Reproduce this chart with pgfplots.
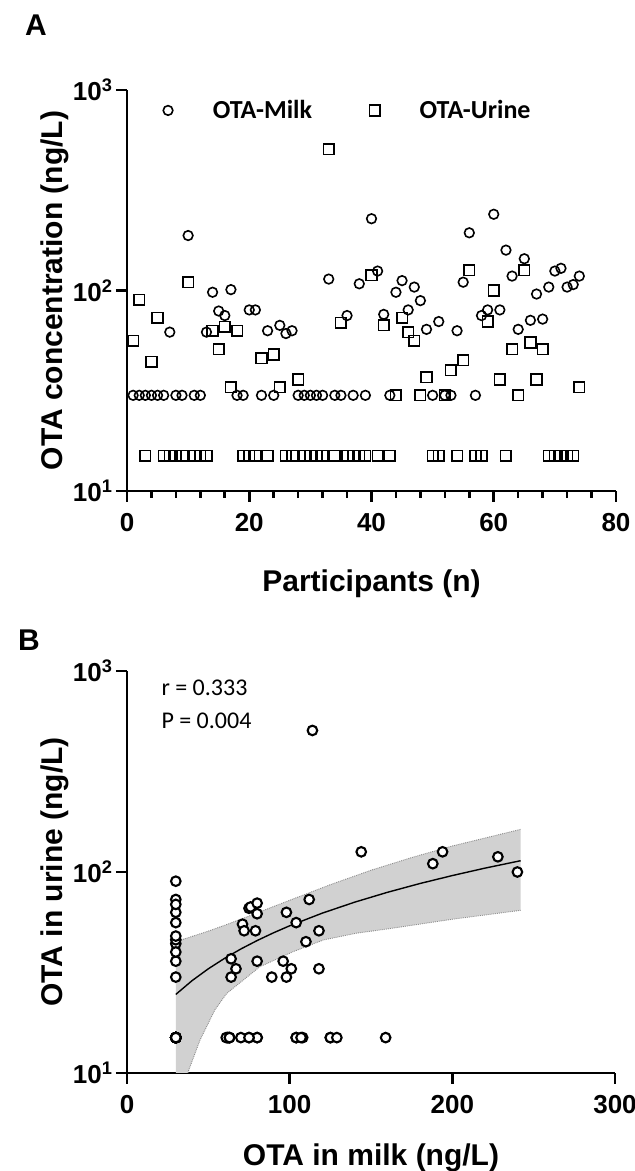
\documentclass[border=0pt]{standalone}
\usepackage{pgfplots}
\usepackage{pgfplotstable}
\pgfplotsset{compat=1.18}
\usepackage{fontspec}
\setmainfont{Liberation Sans}
\newfontfamily\calibri{Carlito}

\pgfplotsset{mylegimg/.style={legend image code/.code={\path (0pt,-6pt) (64pt,6pt); \draw[##1] plot coordinates {(20pt,0pt)};}}}

\pgfplotstableread{
p milk urine
1 30 56
2 30 90
3 30 15
4 30 44
5 30 73
6 30 15
7 62 15
8 30 15
9 30 15
10 188 110
11 30 15
12 30 15
13 62 15
14 98 63
15 79 51
16 75 66
17 101 33
18 30 63
19 30 15
20 80 15
21 80 15
22 30 46
23 63 15
24 30 48
25 67 33
26 61 15
27 63 15
28 30 36
29 30 15
30 30 15
31 30 15
32 30 15
33 114 506
34 30 15
35 30 69
36 75 15
37 30 15
38 108 15
39 30 15
40 228 119
41 125 15
42 76 67
43 30 15
44 98 30
45 112 73
46 80 62
47 104 56
48 89 30
49 64 37
50 30 15
51 70 15
52 30 30
53 30 40
54 63 15
55 110 45
56 194 126
57 30 15
58 75 15
59 80 70
60 240 100
61 80 36
62 159 15
63 118 51
64 64 30
65 144 126
66 71 55
67 96 36
68 72 51
69 104 15
70 125 15
71 129 15
72 104 15
73 107 15
74 118 33
}\data

\begin{document}
\begin{tikzpicture}
\useasboundingbox (0,0) rectangle (635pt,1171pt);

% Panel A
\begin{axis}[
  scale only axis,
  at={(127pt,680pt)}, anchor=south west,
  width=489pt, height=401pt,
  ymode=log, ymin=10, ymax=1000,
  ytick={10,100,1000},
  yticklabels={10\textsuperscript{1},10\textsuperscript{2},10\textsuperscript{3}},
  yminorticks=false,
  axis lines*=left,
  axis line style={line width=2.6pt},
  every tick/.style={line width=2.6pt, black},
  major tick length=11pt,
  minor tick length=7pt,
  tick align=outside,
  ticklabel style={font=\fontsize{26}{30}\selectfont\bfseries},
  xticklabel style={yshift=-8pt},
  label style={font=\fontsize{30}{36}\selectfont\bfseries},
  xmin=0, xmax=80,
  xtick={0,20,40,60,80},
  xticklabels={0,20,40,60,80},
  minor x tick num=4,
  xlabel={Participants (n)},
  ylabel={OTA concentration (ng/L)},
  xlabel style={at={(axis description cs:0.5,-0.232)}, anchor=center},
  ylabel style={at={(axis description cs:-0.147,0.5)}, anchor=center},
  legend columns=2,
  legend style={draw=none, fill=none, at={(axis description cs:0.041,0.949)}, anchor=west,
    font=\calibri\bfseries\fontsize{26}{30}\selectfont,
    inner sep=0pt,
    nodes={inner sep=0pt},
    /tikz/every even column/.append style={column sep=42pt}},
]
\addplot[only marks, mark=o, mark size=4.8pt, line width=1.6pt, black, mylegimg]
  table[x=p,y=milk]{\data};
\addlegendentry{OTA-Milk}
\addplot[only marks, mark=square, mark size=5.3pt, line width=1.6pt, black, mylegimg]
  table[x=p,y=urine]{\data};
\addlegendentry{OTA-Urine}
\end{axis}

% Panel B
\begin{axis}[
  scale only axis,
  at={(127pt,98pt)}, anchor=south west,
  width=488pt, height=402pt,
  ymode=log, ymin=10, ymax=1000,
  ytick={10,100,1000},
  yticklabels={10\textsuperscript{1},10\textsuperscript{2},10\textsuperscript{3}},
  yminorticks=false,
  axis lines*=left,
  axis line style={line width=2.6pt},
  every tick/.style={line width=2.6pt, black},
  major tick length=11pt,
  tick align=outside,
  ticklabel style={font=\fontsize{26}{30}\selectfont\bfseries},
  xticklabel style={yshift=-8pt},
  label style={font=\fontsize{30}{36}\selectfont\bfseries},
  xmin=0, xmax=300,
  xtick={0,100,200,300},
  xticklabels={0,100,200,300},
  xlabel={OTA in milk (ng/L)},
  ylabel={OTA in urine (ng/L)},
  xlabel style={at={(axis description cs:0.5,-0.21)}, anchor=center},
  ylabel style={at={(axis description cs:-0.147,0.5)}, anchor=center},
]
\addplot[fill=black!18, draw=none] coordinates {
 (30,45) (40,47.8) (50,50.8) (60,54.3) (73,59.5) (100,72.3) (125,86.5) (150,102) (175,118) (200,134.7) (242,163)
 (242,64.5) (200,58.2) (161.6,52.3) (141,49.6) (120.7,45.9) (102,40.1) (81.7,33.8) (71.5,29) (61.3,24.9) (54,20.6) (44.9,14.6) (37.7,10.2) (34,8) (30,5)
} -- cycle;
\addplot[densely dotted, black!45, line width=0.9pt] coordinates {
 (30,45) (40,47.8) (50,50.8) (60,54.3) (73,59.5) (100,72.3) (125,86.5) (150,102) (175,118) (200,134.7) (242,163)};
\addplot[densely dotted, black!45, line width=0.9pt] coordinates {
 (242,64.5) (200,58.2) (161.6,52.3) (141,49.6) (120.7,45.9) (102,40.1) (81.7,33.8) (71.5,29) (61.3,24.9) (54,20.6) (44.9,14.6) (37.7,10.2) (34,8) (30,5)};
\addplot[black, line width=1.4pt] coordinates {
 (30,24.6) (40,28.8) (50,33.0) (60,37.2) (70,41.4) (80,45.6) (90,49.8) (100,54.0) (120,62.4) (140,70.8) (160,79.2) (180,87.6) (200,96.0) (220,104.5) (242,113.8)};
\addplot[only marks, mark=*, mark size=4.8pt, line width=2.1pt, draw=black, fill=white] table[x=milk,y=urine]{\data};
\node[anchor=west, font=\calibri\fontsize{24}{28}\selectfont] at (rel axis cs:0.0635,0.958) {r = 0.333};
\node[anchor=west, font=\calibri\fontsize{24}{28}\selectfont] at (rel axis cs:0.0635,0.876) {P = 0.004};
\end{axis}

\node[font=\fontsize{30}{36}\selectfont\bfseries] at (36pt,1146pt) {A};
\node[font=\fontsize{30}{36}\selectfont\bfseries] at (29pt,531pt) {B};
\end{tikzpicture}
\end{document}
